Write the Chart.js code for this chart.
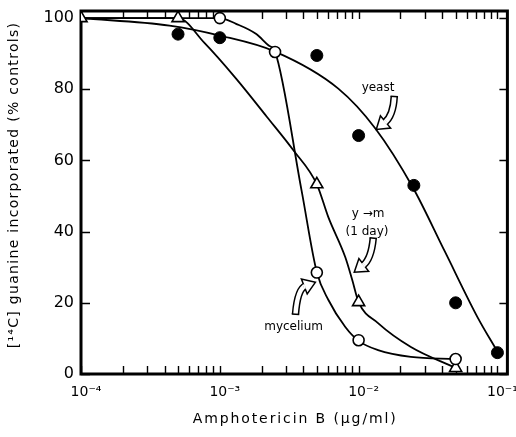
<!DOCTYPE html>
<html>
<head>
<meta charset="utf-8">
<script src="https://cdn.jsdelivr.net/npm/chart.js@4/dist/chart.umd.min.js"></script>
<style>
  html, body { margin: 0; padding: 0; background: #fff; }
  #c { display: block; }
</style>
</head>
<body>
<canvas id="c" width="516" height="437"></canvas>
<script>
// ---------- data ----------
// measured points (markers)
const yeastX = [5e-4, 1e-3, 5e-3, 1e-2, 2.5e-2, 5e-2, 1e-1];
const yeastY = [95.5, 94.5, 89.5, 67, 53, 20, 6];
const myceliumX = [1e-3, 2.5e-3, 5e-3, 1e-2, 5e-2];
const myceliumY = [100, 90.5, 28.5, 9.5, 4.2];
const ymX = [1e-4, 5e-4, 5e-3, 1e-2, 5e-2];
const ymY = [100, 100, 53.3, 20.2, 1.7];

// hand-drawn curves
const yeastCurveX = [1e-4, 4.34e-4, 1e-3, 2.5e-3, 7.14e-3, 1.32e-2, 2.46e-2, 4.17e-2, 7.18e-2, 1e-1];
const yeastCurveY = [100, 97.9, 95.1, 90.6, 80.2, 69.0, 52.4, 34.5, 16.0, 6.3];
const myceliumCurveX = [1e-4, 1e-3, 1.31e-3, 1.82e-3, 2.25e-3, 2.5e-3, 3.88e-3, 5e-3, 6.06e-3, 8.02e-3, 1e-2, 1.38e-2, 2.38e-2, 5e-2];
const myceliumCurveY = [100, 100, 98.4, 95.6, 92.3, 90.6, 51.6, 28.6, 20.8, 13.2, 9.3, 6.7, 4.8, 4.2];
const ymCurveX = [1e-4, 5e-4, 7.72e-4, 1.31e-3, 2.18e-3, 3.40e-3, 5e-3, 6.06e-3, 8.02e-3, 9.0e-3, 1e-2, 1.38e-2, 2.38e-2, 5e-2];
const ymCurveY = [100, 100, 93.1, 83.0, 72.3, 62.8, 53.3, 44.0, 32.8, 26.4, 20.2, 14.3, 7.6, 1.7];

// axes
const xTickValues = [1e-4,2e-4,3e-4,4e-4,5e-4,6e-4,7e-4,8e-4,9e-4,
                     1e-3,2e-3,3e-3,4e-3,5e-3,6e-3,7e-3,8e-3,9e-3,
                     1e-2,2e-2,3e-2,4e-2,5e-2,6e-2,7e-2,8e-2,9e-2,
                     1e-1];
const xTickLabels = ['10⁻⁴','','','','','','','','',
                     '10⁻³','','','','','','','','',
                     '10⁻²','','','','','','','','',
                     '10⁻¹'];
const yTickValues = [0, 20, 40, 60, 80, 100];
const yTickLabels = ['0', '20', '40', '60', '80', '100'];
const xTitle = 'Amphotericin B (µg/ml)';
const yTitle = '[¹⁴C] guanine incorporated (% controls)';

// annotation labels
const annotationTexts = ['yeast', 'y →m', '(1 day)', 'mycelium'];

// ---------- build ----------
const FONT = 'DejaVu Sans';
const pts = (xs, ys) => xs.map((x, i) => ({ x: x, y: ys[i] }));

const annotationPlugin = {
  id: 'frameAndNotes',
  beforeDatasetsDraw(chart) {
    const { ctx, chartArea: a, scales: { x, y } } = chart;
    ctx.save();
    ctx.strokeStyle = '#000';
    ctx.lineWidth = 1.4;
    ctx.beginPath();
    x.ticks.forEach(t => {
      const px = Math.round(x.getPixelForValue(t.value)) + 0.5;
      ctx.moveTo(px, a.bottom); ctx.lineTo(px, a.bottom - 8);
      ctx.moveTo(px, a.top); ctx.lineTo(px, a.top + 8);
    });
    y.ticks.forEach(t => {
      const py = Math.round(y.getPixelForValue(t.value)) + 0.5;
      ctx.moveTo(a.left, py); ctx.lineTo(a.left + 9, py);
      ctx.moveTo(a.right, py); ctx.lineTo(a.right - 8, py);
    });
    ctx.stroke();
    ctx.lineWidth = 3;
    ctx.lineCap = 'square';
    ctx.beginPath();
    ctx.moveTo(a.left, a.top); ctx.lineTo(a.left, a.bottom); ctx.lineTo(a.right, a.bottom);
    ctx.moveTo(a.left, a.top); ctx.lineTo(a.right, a.top); ctx.lineTo(a.right, a.bottom);
    ctx.stroke();
    ctx.restore();
  },
  afterDatasetsDraw(chart) {
    const { ctx, chartArea: a, scales: { x, y } } = chart;
    const P = (vx, vy) => ({ x: x.getPixelForValue(vx), y: y.getPixelForValue(vy) });
    ctx.save();
    ctx.fillStyle = '#000';
    ctx.font = '12px "' + FONT + '"';
    ctx.textAlign = 'center';
    ctx.textBaseline = 'middle';
    const t1 = P(1.38e-2, 80.5); ctx.fillText(annotationTexts[0], t1.x, t1.y);
    const t2 = P(1.17e-2, 45.1); ctx.fillText(annotationTexts[1], t2.x, t2.y);
    const t3 = P(1.15e-2, 39.8); ctx.fillText(annotationTexts[2], t3.x, t3.y);
    const t4 = P(3.40e-3, 13.2); ctx.fillText(annotationTexts[3], t4.x, t4.y);

    function arrow(tip, tailOff, ctrlOff) {
      const T = { x: tip.x + tailOff[0], y: tip.y + tailOff[1] };
      const C = { x: tip.x + ctrlOff[0], y: tip.y + ctrlOff[1] };
      const headLen = 12, headHalf = 8, outer = 7.5;
      const dx = tip.x - C.x, dy = tip.y - C.y, len = Math.hypot(dx, dy);
      const ux = dx / len, uy = dy / len, nx = -uy, ny = ux;
      const B = { x: tip.x - ux * headLen, y: tip.y - uy * headLen };
      ctx.lineCap = 'butt';
      ctx.beginPath();
      ctx.moveTo(T.x, T.y);
      ctx.quadraticCurveTo(C.x, C.y, B.x + ux, B.y + uy);
      ctx.strokeStyle = '#000'; ctx.lineWidth = outer; ctx.stroke();
      ctx.strokeStyle = '#fff'; ctx.lineWidth = outer - 3; ctx.stroke();
      const tdx = C.x - T.x, tdy = C.y - T.y, tl = Math.hypot(tdx, tdy);
      const tnx = -tdy / tl, tny = tdx / tl;
      ctx.beginPath();
      ctx.moveTo(T.x + tnx * outer / 2, T.y + tny * outer / 2);
      ctx.lineTo(T.x - tnx * outer / 2, T.y - tny * outer / 2);
      ctx.strokeStyle = '#000'; ctx.lineWidth = 1.5; ctx.stroke();
      ctx.beginPath();
      ctx.moveTo(tip.x, tip.y);
      ctx.lineTo(B.x + nx * headHalf, B.y + ny * headHalf);
      ctx.lineTo(B.x - nx * headHalf, B.y - ny * headHalf);
      ctx.closePath();
      ctx.fillStyle = '#fff'; ctx.fill();
      ctx.strokeStyle = '#000'; ctx.lineWidth = 1.5; ctx.lineJoin = 'miter'; ctx.stroke();
      ctx.beginPath();
      ctx.moveTo(B.x + nx * (outer / 2 - 1.5), B.y + ny * (outer / 2 - 1.5));
      ctx.lineTo(B.x - nx * (outer / 2 - 1.5), B.y - ny * (outer / 2 - 1.5));
      ctx.strokeStyle = '#fff'; ctx.lineWidth = 2; ctx.stroke();
    }
    arrow(P(1.34e-2, 68.7), [18, -33], [17, -14]);
    arrow(P(9.3e-3, 28.6), [19, -34], [17, -13]);
    arrow(P(4.89e-3, 25.8), [-20, 32], [-18, 7]);

    // axis titles (wide, letter-spaced lettering as in the figure)
    ctx.fillStyle = '#000';
    ctx.font = '14px "' + FONT + '"';
    ctx.textAlign = 'center';
    ctx.textBaseline = 'middle';
    ctx.letterSpacing = '1.9px';
    ctx.fillText(xTitle, (a.left + a.right) / 2 + 1, 419);
    ctx.letterSpacing = '1.3px';
    ctx.translate(14, 185);
    ctx.rotate(-Math.PI / 2);
    ctx.fillText(yTitle, 0, 0);
    ctx.restore();
  }
};

const curveStyle = {
  showLine: true, pointRadius: 0, borderColor: '#000', borderWidth: 1.8,
  cubicInterpolationMode: 'monotone', fill: false
};

new Chart(document.getElementById('c'), {
  type: 'scatter',
  data: {
    datasets: [
      { label: 'yeast', data: pts(yeastX, yeastY), pointStyle: 'circle', pointRadius: 6,
        backgroundColor: '#000', borderColor: '#000', borderWidth: 1, showLine: false },
      { label: 'mycelium', data: pts(myceliumX, myceliumY), pointStyle: 'circle', pointRadius: 5.5,
        backgroundColor: '#fff', borderColor: '#000', borderWidth: 1.6, showLine: false },
      { label: 'y→m (1 day)', data: pts(ymX, ymY), pointStyle: 'triangle', pointRadius: 7,
        backgroundColor: '#fff', borderColor: '#000', borderWidth: 1.6, showLine: false },
      Object.assign({ label: 'yeast curve', data: pts(yeastCurveX, yeastCurveY) }, curveStyle),
      Object.assign({ label: 'mycelium curve', data: pts(myceliumCurveX, myceliumCurveY) }, curveStyle),
      Object.assign({ label: 'y→m curve', data: pts(ymCurveX, ymCurveY) }, curveStyle)
    ]
  },
  options: {
    responsive: false,
    animation: false,
    devicePixelRatio: 1,
    layout: { padding: { top: 11, right: 6, left: 0, bottom: 0 } },
    plugins: { legend: { display: false }, tooltip: { enabled: false } },
    scales: {
      x: {
        type: 'logarithmic', min: 1e-4, max: 0.118,
        afterBuildTicks: s => { s.ticks = xTickValues.map(v => ({ value: v })); },
        afterFit: s => { s.height = 63; s.paddingLeft = 0; s.paddingRight = 0; },
        grid: { display: false, drawTicks: false },
        border: { display: false },
        ticks: {
          autoSkip: false, maxRotation: 0, minRotation: 0, padding: 10, color: '#000',
          labelOffset: 5,
          font: { family: FONT, size: 14 },
          callback: (v, i) => xTickLabels[i]
        },
        title: { display: false }
      },
      y: {
        min: 0, max: 102,
        afterBuildTicks: s => { s.ticks = yTickValues.map(v => ({ value: v })); },
        afterFit: s => { s.width = 81; s.paddingTop = 0; s.paddingBottom = 0; },
        grid: { display: false, drawTicks: false },
        border: { display: false },
        ticks: {
          padding: 7, color: '#000', font: { family: FONT, size: 16 },
          callback: (v, i) => yTickLabels[i]
        },
        title: { display: false }
      }
    }
  },
  plugins: [annotationPlugin]
});
</script>
</body>
</html>
